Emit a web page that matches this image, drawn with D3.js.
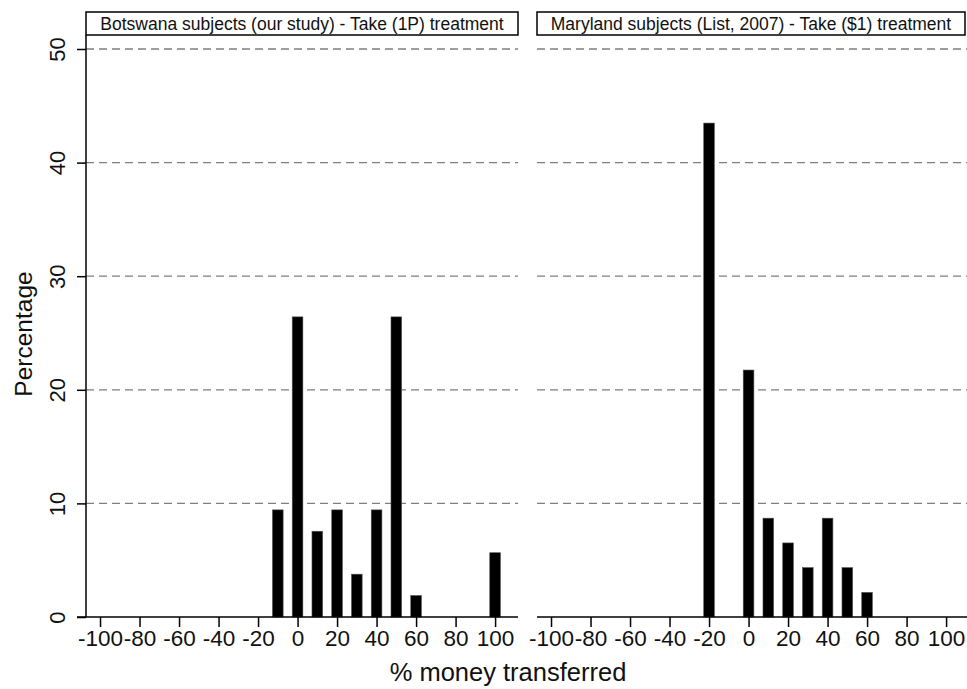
<!DOCTYPE html>
<html lang="en">
<head>
  <meta charset="UTF-8">
  <title>Money transferred</title>
  <script src="https://d3js.org/d3.v7.min.js"></script>
  <style>
    body { margin: 0; background: white; font-family: "Liberation Sans", Arial, sans-serif; }
    .grid { stroke: #7f7f7f; stroke-width: 1.3px; stroke-dasharray: 8,5; }
    .bar { fill: black; stroke: #555; stroke-width: 0.6px; }
    .axisline { stroke: black; stroke-width: 1.5px; }
    text { fill: #111; }
  </style>
</head>
<body>
<svg id="svg"></svg>
<script>
// data: percentage of subjects by % money transferred
const titles = ["Botswana subjects (our study) - Take (1P) treatment",
                "Maryland subjects (List, 2007) - Take ($1) treatment"];
const botswanaX = [-10, 0, 10, 20, 30, 40, 50, 60, 100];
const botswanaPct = [9.43, 26.42, 7.55, 9.43, 3.77, 9.43, 26.42, 1.89, 5.66];
const marylandX = [-20, 0, 10, 20, 30, 40, 50, 60];
const marylandPct = [43.48, 21.74, 8.70, 6.52, 4.35, 8.70, 4.35, 2.17];
const xTicks = [-100, -80, -60, -40, -20, 0, 20, 40, 60, 80, 100];
const yTicks = [0, 10, 20, 30, 40, 50];

const width = 967, height = 689;
const svg = d3.select("#svg").attr("width", width).attr("height", height);

const y = d3.scaleLinear().domain([0, 50]).range([617, 49]);
const panels = [
  { left: 86, right: 518, xs: botswanaX, ys: botswanaPct, title: titles[0] },
  { left: 537, right: 969, xs: marylandX, ys: marylandPct, title: titles[1] }
];
const fmt = d => String(d); // plain hyphen, as in the original

panels.forEach((p, pi) => {
  const x = d3.scaleLinear().domain([-107.1, 111.6]).range([p.left, p.right]);
  const g = svg.append("g");

  // title strip
  const boxR = Math.min(p.right, 965);
  g.append("rect")
    .attr("x", p.left).attr("y", 12)
    .attr("width", boxR - p.left).attr("height", 23)
    .attr("fill", "white").attr("stroke", "black").attr("stroke-width", 1.5);
  g.append("text")
    .attr("x", (p.left + boxR) / 2).attr("y", 29.5)
    .attr("text-anchor", "middle").attr("font-size", "17.5px")
    .text(p.title);

  // dashed grid
  g.selectAll(".grid")
    .data(yTicks.filter(d => d > 0))
    .join("line")
    .attr("class", "grid")
    .attr("x1", p.left).attr("x2", p.right)
    .attr("y1", d => y(d)).attr("y2", d => y(d));

  // bars
  const bw = x(5.4) - x(0);
  g.selectAll(".bar")
    .data(p.xs.map((v, i) => ({ x: v, y: p.ys[i] })))
    .join("rect")
    .attr("class", "bar")
    .attr("x", d => x(d.x) - bw / 2)
    .attr("width", bw)
    .attr("y", d => y(d.y))
    .attr("height", d => y(0) - y(d.y));

  // x axis
  const xAxis = d3.axisBottom(x).tickValues(xTicks).tickFormat(fmt).tickSize(10).tickPadding(3);
  const ax = g.append("g").attr("transform", `translate(0,${y(0)})`).call(xAxis);
  ax.select(".domain").remove();
  ax.selectAll(".tick line").attr("stroke-width", 1.5);
  ax.selectAll(".tick text").attr("font-size", "22.5px").attr("font-family", "Liberation Sans, Arial, sans-serif").attr("fill", "#111");
  g.append("line").attr("class", "axisline")
    .attr("x1", pi === 0 ? 77 : p.left).attr("x2", p.right)
    .attr("y1", y(0)).attr("y2", y(0));

  if (pi === 0) {
    g.append("line").attr("class", "axisline")
      .attr("x1", p.left).attr("x2", p.left)
      .attr("y1", 35).attr("y2", y(0));
    const yAxis = d3.axisLeft(y).tickValues(yTicks).tickSize(9).tickPadding(0);
    const ay = g.append("g").attr("transform", `translate(${p.left},0)`).call(yAxis);
    ay.select(".domain").remove();
    ay.selectAll(".tick line").attr("stroke-width", 1.5);
    ay.selectAll(".tick text")
      .attr("font-size", "22px").attr("font-family", "Liberation Sans, Arial, sans-serif").attr("fill", "#111")
      .attr("text-anchor", "middle")
      .attr("x", 0).attr("dy", 0).attr("y", 0)
      .attr("transform", "translate(-21,0) rotate(-90)");
  }
});

svg.append("text")
  .attr("transform", "translate(32,334) rotate(-90)")
  .attr("text-anchor", "middle").attr("font-size", "24.5px")
  .text("Percentage");

svg.append("text")
  .attr("x", 508).attr("y", 681)
  .attr("text-anchor", "middle").attr("font-size", "25.5px")
  .text("% money transferred");
</script>
</body>
</html>
